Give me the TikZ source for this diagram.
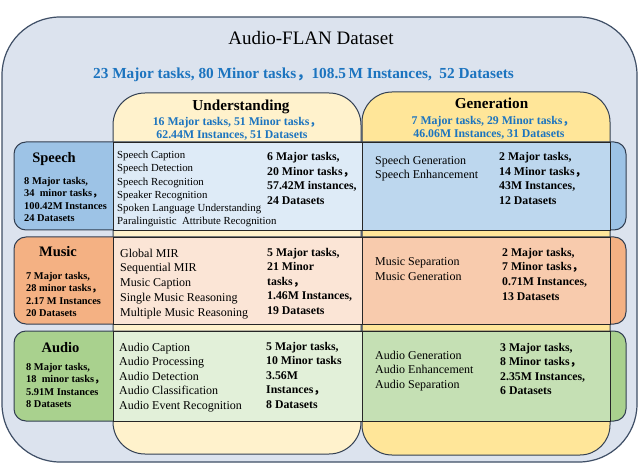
\documentclass[tikz,border=0pt]{standalone}
\usepackage{fontspec}
\setmainfont{Liberation Serif}
\newfontfamily\cjk{Noto Sans CJK SC}
\newcommand\fc{{\cjk ，}}
\definecolor{outerfill}{HTML}{DCE3EE}
\definecolor{outerline}{HTML}{3F4F66}
\definecolor{undfill}{HTML}{FFF2CC}
\definecolor{genfill}{HTML}{FFE699}
\definecolor{blu}{HTML}{1C74BF}
\definecolor{spL}{HTML}{9DC3E6}\definecolor{spM}{HTML}{DEEBF7}\definecolor{spR}{HTML}{BDD7EE}
\definecolor{muL}{HTML}{F4B183}\definecolor{muM}{HTML}{FBE5D6}\definecolor{muR}{HTML}{F8CBAD}
\definecolor{auL}{HTML}{A9D18E}\definecolor{auM}{HTML}{E2F0D9}\definecolor{auR}{HTML}{C5E0B4}
\newcommand\fs[1]{\fontsize{#1}{#1}\selectfont}
\tikzset{
  lab/.style={inner sep=0pt, anchor=base west},
  ctr/.style={inner sep=0pt, anchor=base},
  colline/.style={draw=outerline!80!black, line width=1pt},
  rowline/.style={draw=outerline!80!black, line width=1pt, rounded corners=12pt},
  cellline/.style={draw=black!85, line width=0.9pt},
}
% name, x, first baseline, step, font, list
\newcommand\tl[6]{\foreach \t [count=\i] in {#6} {\node[lab, font=#5] (#1\i) at (#2, {#3+(\i-1)*#4}) {\t};}}
\newcommand\rowshape[5]{%
  \draw[rowline, fill=#3] (14,#1) rectangle (626,#2);
  \draw[cellline, fill=#4] (113,#1) rectangle (362,#2);
  \draw[cellline, fill=#5] (362,#1) rectangle (610,#2);}
\begin{document}
\begin{tikzpicture}[x=1pt,y=-1pt]
\useasboundingbox (0,0) rectangle (640,465);
% outer box
\draw[draw=outerline, line width=1.2pt, fill=outerfill, rounded corners=58pt] (2,17) rectangle (637,462);
\node[ctr, font=\fs{19}] (title) at (311,44.5) {Audio-FLAN Dataset};
\node[ctr, font=\fs{15.3}\bfseries, text=blu] (total) at (303.5,78.5) {23 Major tasks, 80 Minor tasks\fc108.5\,M Instances,\ \ 52 Datasets};
% columns
\draw[colline, fill=undfill, rounded corners=32pt] (113,93) rectangle (361,454);
\draw[colline, fill=genfill, rounded corners=30pt] (362,92) rectangle (610,455);
\node[ctr, font=\fs{15.2}\bfseries] (und) at (241,110.3) {Understanding};
\node[ctr, font=\fs{11.8}\bfseries, text=blu] (und1) at (237,126) {16 Major tasks, 51 Minor tasks\fc};
\node[ctr, font=\fs{11.8}\bfseries, text=blu] (und2) at (232,139) {62.44M Instances, 51 Datasets};
\node[ctr, font=\fs{15.2}\bfseries] (gen) at (491.5,108.3) {Generation};
\node[ctr, font=\fs{11.8}\bfseries, text=blu] (gen1) at (493,125) {7 Major tasks, 29 Minor tasks\fc};
\node[ctr, font=\fs{11.8}\bfseries, text=blu] (gen2) at (489,138) {46.06M Instances, 31 Datasets};
% rows
\rowshape{142}{230}{spL}{spM}{spR}
\rowshape{237}{324}{muL}{muM}{muR}
\rowshape{331}{421}{auL}{auM}{auR}
% Speech
\node[ctr, font=\fs{14.5}\bfseries] (speech) at (54,163) {Speech};
\tl{spl}{24}{184.6}{12.4}{\fs{10.4}\bfseries}{{8 Major tasks,},{34\ \ minor tasks\fc},{100.42M Instances},{24 Datasets}}
\tl{spm}{117}{158.8}{13.2}{\fs{10.8}}{{Speech Caption},{Speech Detection},{Speech Recognition},{Speaker Recognition},{Spoken Language Understanding},{Paralinguistic\ \ Attribute Recognition}}
\tl{sps}{267}{161}{14.4}{\fs{11.8}\bfseries}{{6 Major tasks,},{20 Minor tasks\fc},{57.42M instances,},{24 Datasets}}
\tl{spr}{375}{164.2}{14.5}{\fs{12}}{{Speech Generation},{Speech Enhancement}}
\tl{spg}{499}{161}{14.4}{\fs{11.8}\bfseries}{{2 Major tasks,},{14 Minor tasks\fc},{43M Instances,},{12 Datasets}}
% Music
\node[ctr, font=\fs{14.5}\bfseries] (music) at (58,257) {Music};
\tl{mul}{26}{279.6}{12.2}{\fs{10.4}\bfseries}{{7 Major tasks,},{28 minor tasks\fc},{2.17 M Instances},{20 Datasets}}
\tl{mum}{120}{257.2}{14.7}{\fs{12}}{{Global MIR},{Sequential MIR},{Music Caption},{Single Music Reasoning},{Multiple Music Reasoning}}
\tl{mus}{267}{256}{14.5}{\fs{11.8}\bfseries}{{5 Major tasks,},{21 Minor},{tasks\fc},{1.46M Instances,},{19 Datasets}}
\tl{mur}{375}{265.2}{15}{\fs{12}}{{Music Separation},{Music Generation}}
\tl{mug}{502}{256}{14.7}{\fs{11.8}\bfseries}{{2 Major tasks,},{7 Minor tasks\fc},{0.71M Instances,},{13 Datasets}}
% Audio
\node[ctr, font=\fs{14.5}\bfseries] (audio) at (60.5,352) {Audio};
\tl{aul}{26}{370.5}{12.4}{\fs{10.4}\bfseries}{{8 Major tasks,},{18\ \ minor tasks\fc},{5.91M Instances},{8 Datasets}}
\tl{aum}{119}{351.2}{14.5}{\fs{12}}{{Audio Caption},{Audio Processing},{Audio Detection},{Audio Classification},{Audio Event Recognition}}
\tl{aus}{266}{350}{14.5}{\fs{11.8}\bfseries}{{5 Major tasks,},{10 Minor tasks},{3.56M},{Instances\fc},{8 Datasets}}
\tl{aur}{375}{359.2}{14.5}{\fs{12}}{{Audio Generation},{Audio Enhancement},{Audio Separation}}
\tl{aug}{500}{351}{14.5}{\fs{11.8}\bfseries}{{3 Major tasks,},{8 Minor tasks\fc},{2.35M Instances,},{6 Datasets}}
\end{tikzpicture}
\end{document}
